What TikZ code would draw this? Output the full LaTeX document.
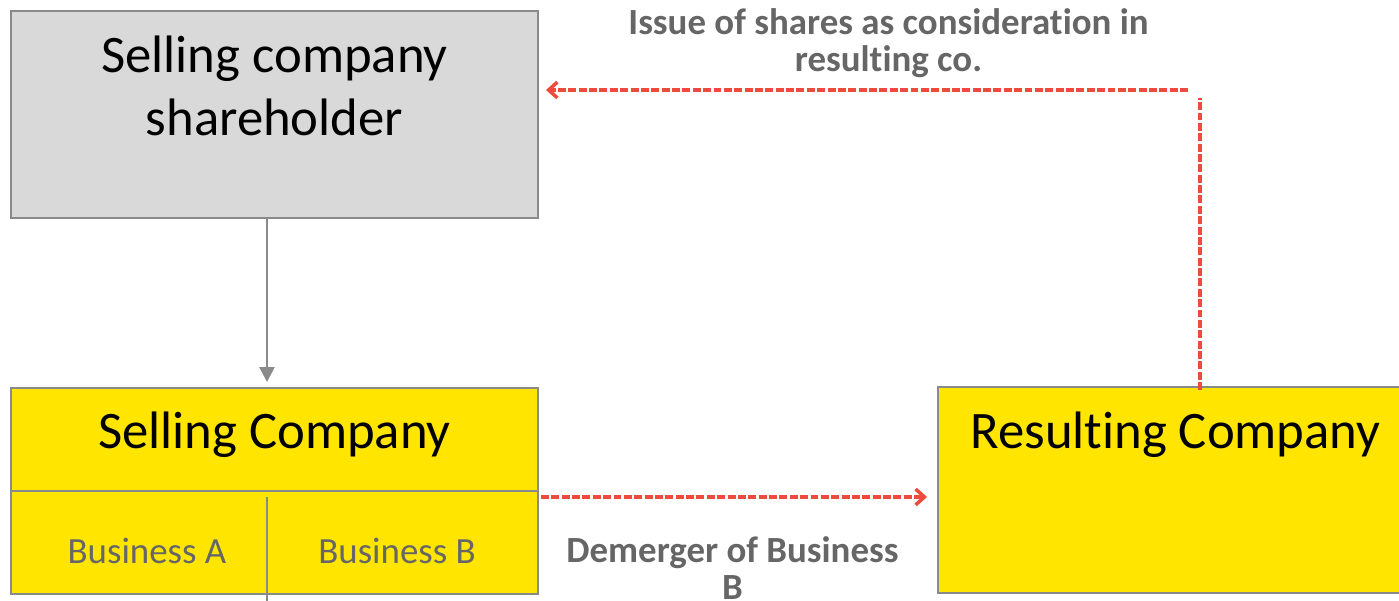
\documentclass[tikz,border=0pt]{standalone}
\usepackage{fontspec}
\setmainfont{Carlito}[Ligatures=NoCommon]
\usetikzlibrary{arrows.meta}

\definecolor{boxgray}{HTML}{D9D9D9}
\definecolor{edgegray}{HTML}{8A8A8A}
\definecolor{txtgray}{HTML}{666666}
\definecolor{coyellow}{HTML}{FFE500}
\definecolor{flowred}{HTML}{EE4B3E}

\begin{document}
\begin{tikzpicture}[
  box/.style={draw=edgegray, line width=1.1pt, inner sep=0pt},
  ttl/.style={font=\fontsize{30}{36}\selectfont, align=center, anchor=base},
  biz/.style={font=\fontsize{21}{25}\selectfont, text=txtgray, anchor=base},
  lbl/.style={font=\bfseries\fontsize{21}{21.6}\selectfont, text=txtgray,
              align=center, anchor=base},
  own/.style={-{Triangle[width=8.5pt,length=8.5pt]}, edgegray, line width=1.5pt},
  dashred/.style={flowred, line width=2pt, dash pattern=on 4.5pt off 1.4pt},
  flow/.style={dashred, -{Straight Barb[length=5pt,width=9pt,line width=2pt]}},
]
\useasboundingbox (0,0) rectangle (27.98,12.02);

%% ── shareholder ───────────────────────────────────────────────────
\node[box, fill=boxgray, minimum width=10.54cm, minimum height=4.14cm] (SH)
  at (5.49, 9.73) {};
% multi-line nodes sit on the baseline of their last line
\node[ttl] (SHt) at (5.49, 9.30) {Selling company\\shareholder};

%% ── selling company, split into its two businesses ───────────────
\node[box, fill=coyellow, minimum width=10.54cm, minimum height=4.12cm] (SC)
  at (5.49, 2.20) {};
\node[ttl] (SCt) at (5.49, 3.05) {Selling Company};
\draw[edgegray, line width=1.1pt] (SC.west) -- (SC.east);

\coordinate (split) at (5.34, 2.08);
\coordinate (floor) at (5.34, 0);
\draw[edgegray, line width=1.1pt] (split) -- (floor);

\node[biz] (BA) at (2.94, 0.74) {Business A};
\node[biz] (BB) at (7.94, 0.74) {Business B};

%% ── resulting company (runs off the right edge) ──────────────────
\node[box, fill=coyellow, minimum width=9.54cm, minimum height=4.12cm] (RC)
  at (23.53, 2.22) {};
\node[ttl] (RCt) at (23.51, 3.05) {Resulting Company};

%% ── connectors ────────────────────────────────────────────────────
\draw[own, shorten >=0.1cm] (SH.south -| split) -- (SC.north -| split);

% demerger of business B
\draw[flow, shorten <=0.04cm, shorten >=0.2cm]
  ([yshift=-0.12cm]SC.east) -- ([yshift=-0.12cm]SC.east -| RC.west);
\node[lbl] (demerge) at (14.65, 0.02) {Demerger of Business\\B};

% shares issued back to the shareholder
\coordinate (bend) at (24.0, 10.22);
\draw[dashred, shorten <=-0.08cm] (RC.north -| bend) -- ([yshift=-0.16cm]bend);
\draw[flow, shorten >=0.14cm] ([xshift=-0.24cm]bend) -- (SH.east |- bend);
\node[lbl] (issue) at (17.77, 10.58) {Issue of shares as consideration in\\resulting co.};

\end{tikzpicture}
\end{document}
